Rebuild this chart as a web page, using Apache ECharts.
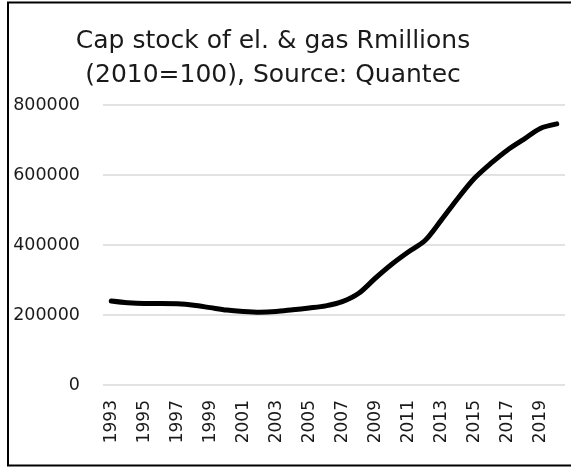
<!DOCTYPE html>
<html>
<head>
<meta charset="utf-8">
<script src="https://cdn.jsdelivr.net/npm/echarts@6/dist/echarts.min.js"></script>
<style>html,body{margin:0;padding:0;background:#fff}#c{width:571px;height:468px}</style>
</head>
<body>
<div id="c"></div>
<script>
const years = ['1993','1994','1995','1996','1997','1998','1999','2000','2001','2002','2003','2004','2005','2006','2007','2008','2009','2010','2011','2012','2013','2014','2015','2016','2017','2018','2019','2020'];
const capStock = [240000,235000,233000,233000,232000,228000,221000,214000,210000,208000,210000,215000,220000,226000,238000,262000,305000,345000,380000,412000,471000,533000,590000,633000,671000,702000,733000,746000];
const titleLines = ['Cap stock of el. & gas Rmillions', '(2010=100), Source: Quantec'];

const chart = echarts.init(document.getElementById('c'), null, {renderer: 'canvas'});
const FONT = 'DejaVu Sans';
chart.setOption({
  animation: false,
  backgroundColor: '#fff',
  title: {
    text: titleLines.join('\n'),
    left: 273,
    textAlign: 'center',
    top: 24,
    padding: 0,
    textStyle: {fontFamily: FONT, fontSize: 25, fontWeight: 'normal', color: '#1a1a1a', lineHeight: 34}
  },
  graphic: [{
    type: 'rect',
    shape: {x: 8, y: 2.5, width: 570, height: 463},
    style: {fill: 'none', stroke: '#000', lineWidth: 2},
    silent: true, z: 100
  }],
  grid: {left: 103, right: 6, top: 105, bottom: 83, containLabel: false},
  xAxis: {
    type: 'category',
    data: years,
    boundaryGap: true,
    axisLine: {show: false},
    axisTick: {show: false},
    axisLabel: {interval: 1, rotate: 90, margin: 15, fontFamily: FONT, fontSize: 17, color: '#1a1a1a'}
  },
  yAxis: {
    type: 'value',
    min: 0, max: 800000, interval: 200000,
    axisLine: {show: false},
    axisTick: {show: false},
    axisLabel: {margin: 23, fontFamily: FONT, fontSize: 17.5, color: '#1a1a1a', formatter: v => String(v)},
    splitLine: {lineStyle: {color: '#d9d9d9', width: 1.5}}
  },
  series: [{
    type: 'line',
    data: capStock,
    smooth: 0.3,
    symbol: 'none',
    lineStyle: {color: '#000', width: 5, cap: 'round', join: 'round'}
  }]
});
</script>
</body>
</html>
